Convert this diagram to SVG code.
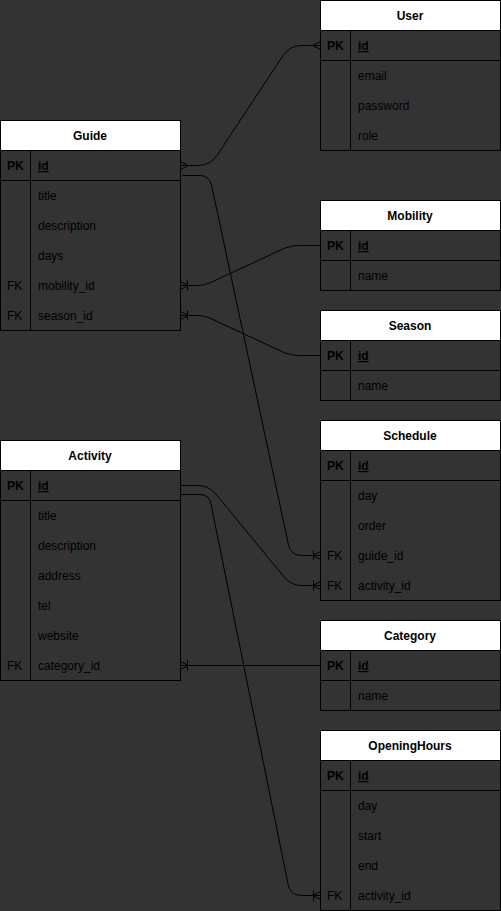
<svg xmlns="http://www.w3.org/2000/svg" width="501" height="911" viewBox="0 0 501 911">
<style>
.bg{fill:#333333}
.tb{fill:#333333;stroke:#000;stroke-width:1}
.hd{fill:#ffffff;stroke:#000;stroke-width:1}
.ln{stroke:#000;stroke-width:1;fill:none}
text{font-family:"Liberation Sans",Arial,sans-serif;font-size:12px;fill:#000}
.h{font-weight:bold;text-anchor:middle}
.k{font-weight:bold}
.u{font-weight:bold;text-decoration:underline}
.e{stroke:#000;stroke-width:1;fill:none}
</style>
<defs>
<marker id="many" markerUnits="userSpaceOnUse" orient="auto-start-reverse" markerWidth="20" markerHeight="20" refX="0" refY="0" viewBox="-10 -10 20 20" overflow="visible">
<path d="M0,-4 L-8,0 L0,4" fill="none" stroke="#000" stroke-width="1"/>
</marker>
<marker id="oneMany" markerUnits="userSpaceOnUse" orient="auto-start-reverse" markerWidth="20" markerHeight="20" refX="0" refY="0" viewBox="-10 -10 20 20" overflow="visible">
<path d="M0,-4 L-8,0 L0,4 M-7,-5 L-7,5" fill="none" stroke="#000" stroke-width="1"/>
</marker>
</defs>
<rect class="bg" x="0" y="0" width="501" height="911"/>

<g id="edges">
<path class="e" d="M180.5,165.5 L198,165.5 Q210,165.5 217,155.5 L283,55.5 Q290,45.5 302,45.5 L320.5,45.5" marker-start="url(#many)" marker-end="url(#many)"/>
<path class="e" d="M182.5,175.5 L200,175.5 Q209,175.5 211.5,185 L288.5,545 Q291,555.5 302,555.5 L320.5,555.5" marker-end="url(#oneMany)"/>
<path class="e" d="M180.5,285.5 L198,285.5 Q205,285.5 215,280.5 L285,248 Q292,245.5 300,245.5 L320.5,245.5" marker-start="url(#oneMany)"/>
<path class="e" d="M180.5,315.5 L198,315.5 Q205,315.5 215,320.5 L285,353 Q292,355.5 300,355.5 L320.5,355.5" marker-start="url(#oneMany)"/>
<path class="e" d="M180.5,485.5 L198,485.5 Q208,485.5 215,493 L285,578 Q292,585.5 302,585.5 L320.5,585.5" marker-end="url(#oneMany)"/>
<path class="e" d="M180.5,494.5 L200,494.5 Q209,494.5 211,504 L288,884 Q290,895.5 302,895.5 L320.5,895.5" marker-end="url(#oneMany)"/>
<path class="e" d="M180.5,665.5 L320.5,665.5" marker-start="url(#oneMany)"/>
</g>

<g id="User">
<rect class="tb" x="320.5" y="0.5" width="180" height="150"/>
<rect class="hd" x="320.5" y="0.5" width="180" height="30"/>
<text class="h" x="410" y="20">User</text>
<path class="ln" d="M350.5,30.5 V150.5 M320.5,60.5 H500.5"/>
<text class="k" x="327" y="50">PK</text><text class="u" x="358" y="50">id</text>
<text x="358" y="80">email</text>
<text x="358" y="110">password</text>
<text x="358" y="140">role</text>
</g>

<g id="Guide">
<rect class="tb" x="0.5" y="120.5" width="180" height="210"/>
<rect class="hd" x="0.5" y="120.5" width="180" height="30"/>
<text class="h" x="90" y="140">Guide</text>
<path class="ln" d="M30.5,150.5 V330.5 M0.5,180.5 H180.5"/>
<text class="k" x="7" y="170">PK</text><text class="u" x="38" y="170">id</text>
<text x="38" y="200">title</text>
<text x="38" y="230">description</text>
<text x="38" y="260">days</text>
<text x="7" y="290">FK</text><text x="38" y="290">mobility_id</text>
<text x="7" y="320">FK</text><text x="38" y="320">season_id</text>
</g>

<g id="Mobility">
<rect class="tb" x="320.5" y="200.5" width="180" height="90"/>
<rect class="hd" x="320.5" y="200.5" width="180" height="30"/>
<text class="h" x="410" y="220">Mobility</text>
<path class="ln" d="M350.5,230.5 V290.5 M320.5,260.5 H500.5"/>
<text class="k" x="327" y="250">PK</text><text class="u" x="358" y="250">id</text>
<text x="358" y="280">name</text>
</g>

<g id="Season">
<rect class="tb" x="320.5" y="310.5" width="180" height="90"/>
<rect class="hd" x="320.5" y="310.5" width="180" height="30"/>
<text class="h" x="410" y="330">Season</text>
<path class="ln" d="M350.5,340.5 V400.5 M320.5,370.5 H500.5"/>
<text class="k" x="327" y="360">PK</text><text class="u" x="358" y="360">id</text>
<text x="358" y="390">name</text>
</g>

<g id="Schedule">
<rect class="tb" x="320.5" y="420.5" width="180" height="180"/>
<rect class="hd" x="320.5" y="420.5" width="180" height="30"/>
<text class="h" x="410" y="440">Schedule</text>
<path class="ln" d="M350.5,450.5 V600.5 M320.5,480.5 H500.5"/>
<text class="k" x="327" y="470">PK</text><text class="u" x="358" y="470">id</text>
<text x="358" y="500">day</text>
<text x="358" y="530">order</text>
<text x="327" y="560">FK</text><text x="358" y="560">guide_id</text>
<text x="327" y="590">FK</text><text x="358" y="590">activity_id</text>
</g>

<g id="Activity">
<rect class="tb" x="0.5" y="440.5" width="180" height="240"/>
<rect class="hd" x="0.5" y="440.5" width="180" height="30"/>
<text class="h" x="90" y="460">Activity</text>
<path class="ln" d="M30.5,470.5 V680.5 M0.5,500.5 H180.5"/>
<text class="k" x="7" y="490">PK</text><text class="u" x="38" y="490">id</text>
<text x="38" y="520">title</text>
<text x="38" y="550">description</text>
<text x="38" y="580">address</text>
<text x="38" y="610">tel</text>
<text x="38" y="640">website</text>
<text x="7" y="670">FK</text><text x="38" y="670">category_id</text>
</g>

<g id="Category">
<rect class="tb" x="320.5" y="620.5" width="180" height="90"/>
<rect class="hd" x="320.5" y="620.5" width="180" height="30"/>
<text class="h" x="410" y="640">Category</text>
<path class="ln" d="M350.5,650.5 V710.5 M320.5,680.5 H500.5"/>
<text class="k" x="327" y="670">PK</text><text class="u" x="358" y="670">id</text>
<text x="358" y="700">name</text>
</g>

<g id="OpeningHours">
<rect class="tb" x="320.5" y="730.5" width="180" height="180"/>
<rect class="hd" x="320.5" y="730.5" width="180" height="30"/>
<text class="h" x="410" y="750">OpeningHours</text>
<path class="ln" d="M350.5,760.5 V910.5 M320.5,790.5 H500.5"/>
<text class="k" x="327" y="780">PK</text><text class="u" x="358" y="780">id</text>
<text x="358" y="810">day</text>
<text x="358" y="840">start</text>
<text x="358" y="870">end</text>
<text x="327" y="900">FK</text><text x="358" y="900">activity_id</text>
</g>
</svg>
